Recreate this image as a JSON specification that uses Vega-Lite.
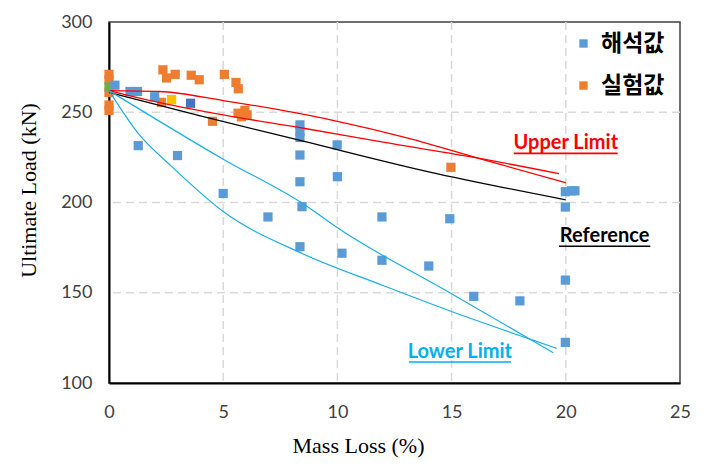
{
  "$schema": "https://vega.github.io/schema/vega-lite/v6.json",
  "width": 571,
  "height": 361,
  "autosize": {"type": "none"},
  "padding": {"left": 109, "top": 22, "right": 28, "bottom": 92},
  "background": "white",
  "config": {
    "view": {"stroke": "#404040", "strokeWidth": 1.5},
    "axis": {
      "ticks": false,
      "grid": false,
      "domainColor": "#000000",
      "domainWidth": 2,
      "labelFont": "Lato",
      "labelFontSize": 18,
      "labelColor": "#404040",
      "labelFlush": false,
      "titleFont": "Liberation Serif",
      "titleFontSize": 22,
      "titleFontWeight": "normal",
      "titleColor": "#000000"
    }
  },
  "datasets": {
    "gridx": [{"v": 5}, {"v": 10}, {"v": 15}, {"v": 20}],
    "gridy": [{"w": 150}, {"w": 200}, {"w": 250}],
    "points": [
      {"x": 0.0, "y": 271, "s": "실험값"},
      {"x": 0.0, "y": 268, "s": "실험값"},
      {"x": 0.0, "y": 261, "s": "실험값"},
      {"x": 0.0, "y": 254, "s": "실험값"},
      {"x": 0.0, "y": 251, "s": "실험값"},
      {"x": 2.36, "y": 273.5, "s": "실험값"},
      {"x": 2.52, "y": 269, "s": "실험값"},
      {"x": 2.9, "y": 271, "s": "실험값"},
      {"x": 3.6, "y": 270.5, "s": "실험값"},
      {"x": 3.95, "y": 268, "s": "실험값"},
      {"x": 5.05, "y": 271, "s": "실험값"},
      {"x": 5.56, "y": 266.5, "s": "실험값"},
      {"x": 5.66, "y": 263, "s": "실험값"},
      {"x": 2.3, "y": 255.5, "s": "실험값"},
      {"x": 4.53, "y": 245, "s": "실험값"},
      {"x": 5.65, "y": 249.5, "s": "실험값"},
      {"x": 5.95, "y": 251, "s": "실험값"},
      {"x": 5.8, "y": 247.5, "s": "실험값"},
      {"x": 6.05, "y": 248.5, "s": "실험값"},
      {"x": 14.97, "y": 219.5, "s": "실험값"},
      {"x": 0.0, "y": 264, "s": "s6"},
      {"x": 2.74, "y": 257, "s": "s4"},
      {"x": 3.57, "y": 255, "s": "s5"},
      {"x": 0.26, "y": 265, "s": "해석값"},
      {"x": 0.92, "y": 261.5, "s": "해석값"},
      {"x": 1.25, "y": 261.5, "s": "해석값"},
      {"x": 2.0, "y": 258.6, "s": "해석값"},
      {"x": 1.28, "y": 231.5, "s": "해석값"},
      {"x": 3.0, "y": 226, "s": "해석값"},
      {"x": 5.0, "y": 205, "s": "해석값"},
      {"x": 6.96, "y": 192, "s": "해석값"},
      {"x": 8.36, "y": 243, "s": "해석값"},
      {"x": 8.36, "y": 239.5, "s": "해석값"},
      {"x": 8.36, "y": 236, "s": "해석값"},
      {"x": 8.36, "y": 226.3, "s": "해석값"},
      {"x": 8.36, "y": 211.5, "s": "해석값"},
      {"x": 8.45, "y": 197.7, "s": "해석값"},
      {"x": 8.36, "y": 175.5, "s": "해석값"},
      {"x": 9.99, "y": 231.9, "s": "해석값"},
      {"x": 10.0, "y": 214.3, "s": "해석값"},
      {"x": 10.2, "y": 171.9, "s": "해석값"},
      {"x": 11.95, "y": 192, "s": "해석값"},
      {"x": 11.95, "y": 168, "s": "해석값"},
      {"x": 14.0, "y": 164.8, "s": "해석값"},
      {"x": 14.92, "y": 191, "s": "해석값"},
      {"x": 15.97, "y": 148, "s": "해석값"},
      {"x": 17.99, "y": 145.5, "s": "해석값"},
      {"x": 19.98, "y": 206, "s": "해석값"},
      {"x": 20.25, "y": 206.5, "s": "해석값"},
      {"x": 20.4, "y": 206.5, "s": "해석값"},
      {"x": 19.98, "y": 197.5, "s": "해석값"},
      {"x": 19.98, "y": 157, "s": "해석값"},
      {"x": 19.98, "y": 122.5, "s": "해석값"}
    ],
    "lines": [
      {"g": "R1", "x": 0, "y": 262},
      {"g": "R1", "x": 2.2, "y": 261.5},
      {"g": "R1", "x": 5, "y": 256.5},
      {"g": "R1", "x": 7.9, "y": 250.3},
      {"g": "R1", "x": 10, "y": 245},
      {"g": "R1", "x": 13, "y": 236},
      {"g": "R1", "x": 16.7, "y": 222.6},
      {"g": "R1", "x": 20, "y": 211},
      {"g": "R2", "x": 0, "y": 262},
      {"g": "R2", "x": 2.23, "y": 255.3},
      {"g": "R2", "x": 5, "y": 248.5},
      {"g": "R2", "x": 8.58, "y": 241},
      {"g": "R2", "x": 12, "y": 233.5},
      {"g": "R2", "x": 15.8, "y": 225.4},
      {"g": "R2", "x": 19.7, "y": 216},
      {"g": "B", "x": 0, "y": 261},
      {"g": "B", "x": 4, "y": 248},
      {"g": "B", "x": 8.5, "y": 234},
      {"g": "B", "x": 14, "y": 217},
      {"g": "B", "x": 20, "y": 201.5},
      {"g": "C1", "x": 0, "y": 262},
      {"g": "C1", "x": 5, "y": 224},
      {"g": "C1", "x": 8.58, "y": 198.6},
      {"g": "C1", "x": 10, "y": 186},
      {"g": "C1", "x": 14.92, "y": 150},
      {"g": "C1", "x": 19.45, "y": 116.8},
      {"g": "C2", "x": 0, "y": 262},
      {"g": "C2", "x": 1.28, "y": 238.3},
      {"g": "C2", "x": 2.74, "y": 220},
      {"g": "C2", "x": 5, "y": 195},
      {"g": "C2", "x": 8.5, "y": 171.5},
      {"g": "C2", "x": 12, "y": 154},
      {"g": "C2", "x": 15, "y": 139.6},
      {"g": "C2", "x": 18.5, "y": 124},
      {"g": "C2", "x": 19.6, "y": 119.2}
    ],
    "labels": [
      {"k": "U", "t": "Upper Limit", "x": 20.0, "y": 233, "x1": 17.72, "x2": 22.27, "yu": 227.2},
      {"k": "R", "t": "Reference", "x": 21.7, "y": 181.4, "x1": 19.7, "x2": 23.7, "yu": 175.8},
      {"k": "L", "t": "Lower Limit", "x": 15.36, "y": 117.2, "x1": 13.13, "x2": 17.6, "yu": 111.6}
    ]
  },
  "layer": [
    {
      "data": {"name": "gridx"},
      "mark": {"type": "rule", "color": "#D9D9D9", "strokeDash": [8, 5], "strokeWidth": 1.5},
      "encoding": {"x": {"field": "v", "type": "quantitative", "scale": {"domain": [0, 25], "nice": false, "zero": false}}}
    },
    {
      "data": {"name": "gridy"},
      "mark": {"type": "rule", "color": "#D9D9D9", "strokeDash": [8, 5], "strokeWidth": 1.5},
      "encoding": {"y": {"field": "w", "type": "quantitative", "scale": {"domain": [100, 300], "nice": false, "zero": false}}}
    },
    {
      "data": {"name": "points"},
      "mark": {"type": "point", "shape": "square", "filled": true, "opacity": 1, "size": 85},
      "encoding": {
        "x": {"field": "x", "type": "quantitative", "scale": {"domain": [0, 25], "nice": false, "zero": false},
          "axis": {"values": [0, 5, 10, 15, 20, 25], "title": "Mass Loss (%)", "labelPadding": 20,
            "titleX": 249, "titleY": 62, "titleBaseline": "middle", "titleAlign": "center"}},
        "y": {"field": "y", "type": "quantitative", "scale": {"domain": [100, 300], "nice": false, "zero": false},
          "axis": {"values": [100, 150, 200, 250, 300], "title": "Ultimate Load (kN)", "labelPadding": 17,
            "titleX": -81, "titleY": 168, "titleBaseline": "middle", "titleAlign": "center"}},
        "color": {"field": "s", "type": "nominal",
          "scale": {"domain": ["해석값", "실험값", "s4", "s5", "s6"], "range": ["#5B9BD5", "#ED7D31", "#FFC000", "#4472C4", "#70AD47"]},
          "legend": {"values": ["해석값", "실험값"], "title": null, "orient": "none", "legendX": 463, "legendY": 10,
            "symbolType": "square", "symbolSize": 70, "symbolOpacity": 1,
            "labelFont": "Noto Sans CJK KR", "labelFontSize": 23, "labelFontWeight": "bold", "labelColor": "#000000",
            "rowPadding": 18, "labelOffset": 6}}
      }
    },
    {
      "data": {"name": "lines"},
      "transform": [{"filter": "datum.g == 'R1' || datum.g == 'R2'"}],
      "mark": {"type": "line", "color": "#FF0000", "strokeWidth": 1.3, "interpolate": "monotone"},
      "encoding": {"x": {"field": "x", "type": "quantitative"}, "y": {"field": "y", "type": "quantitative"}, "detail": {"field": "g"}}
    },
    {
      "data": {"name": "lines"},
      "transform": [{"filter": "datum.g == 'B'"}],
      "mark": {"type": "line", "color": "#000000", "strokeWidth": 1.3, "interpolate": "monotone"},
      "encoding": {"x": {"field": "x", "type": "quantitative"}, "y": {"field": "y", "type": "quantitative"}, "detail": {"field": "g"}}
    },
    {
      "data": {"name": "lines"},
      "transform": [{"filter": "datum.g == 'C1' || datum.g == 'C2'"}],
      "mark": {"type": "line", "color": "#1AAFE6", "strokeWidth": 1.2, "interpolate": "monotone"},
      "encoding": {"x": {"field": "x", "type": "quantitative"}, "y": {"field": "y", "type": "quantitative"}, "detail": {"field": "g"}}
    },
    {
      "data": {"name": "labels"},
      "transform": [{"filter": "datum.k == 'U'"}],
      "mark": {"type": "text", "font": "Lato", "fontSize": 20, "fontWeight": "bold", "align": "center", "baseline": "middle", "color": "#FF0000"},
      "encoding": {"x": {"field": "x", "type": "quantitative"}, "y": {"field": "y", "type": "quantitative"}, "text": {"field": "t"}}
    },
    {
      "data": {"name": "labels"},
      "transform": [{"filter": "datum.k == 'R'"}],
      "mark": {"type": "text", "font": "Lato", "fontSize": 20, "fontWeight": "bold", "align": "center", "baseline": "middle", "color": "#000000"},
      "encoding": {"x": {"field": "x", "type": "quantitative"}, "y": {"field": "y", "type": "quantitative"}, "text": {"field": "t"}}
    },
    {
      "data": {"name": "labels"},
      "transform": [{"filter": "datum.k == 'L'"}],
      "mark": {"type": "text", "font": "Lato", "fontSize": 20, "fontWeight": "bold", "align": "center", "baseline": "middle", "color": "#00B0F0"},
      "encoding": {"x": {"field": "x", "type": "quantitative"}, "y": {"field": "y", "type": "quantitative"}, "text": {"field": "t"}}
    },
    {
      "data": {"name": "labels"},
      "transform": [{"filter": "datum.k == 'U'"}],
      "mark": {"type": "rule", "strokeWidth": 1.6, "color": "#FF0000"},
      "encoding": {"x": {"field": "x1", "type": "quantitative"}, "x2": {"field": "x2"}, "y": {"field": "yu", "type": "quantitative"}}
    },
    {
      "data": {"name": "labels"},
      "transform": [{"filter": "datum.k == 'R'"}],
      "mark": {"type": "rule", "strokeWidth": 1.6, "color": "#000000"},
      "encoding": {"x": {"field": "x1", "type": "quantitative"}, "x2": {"field": "x2"}, "y": {"field": "yu", "type": "quantitative"}}
    },
    {
      "data": {"name": "labels"},
      "transform": [{"filter": "datum.k == 'L'"}],
      "mark": {"type": "rule", "strokeWidth": 1.6, "color": "#00B0F0"},
      "encoding": {"x": {"field": "x1", "type": "quantitative"}, "x2": {"field": "x2"}, "y": {"field": "yu", "type": "quantitative"}}
    }
  ]
}
